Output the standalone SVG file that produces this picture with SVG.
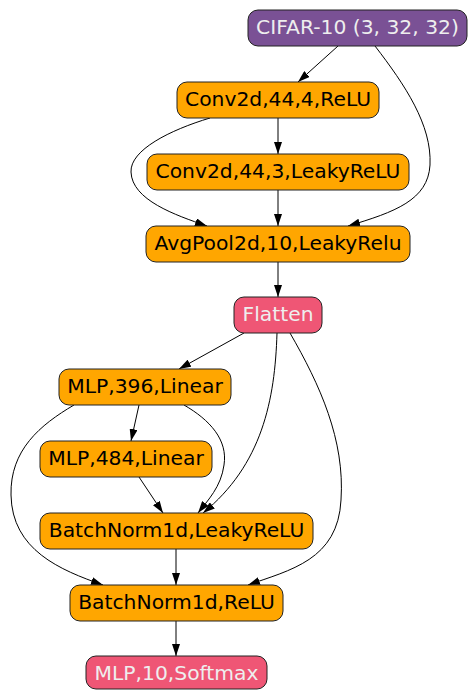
<svg xmlns="http://www.w3.org/2000/svg" width="468" height="690" viewBox="0 0 468 690">
<style>
  .n rect { stroke: #222; stroke-width: 1; }
  .o rect { fill: #ffa600; }
  .p rect { fill: #7a5195; }
  .k rect { fill: #ef5675; }
  .n text { font-family: "DejaVu Sans", sans-serif; font-size: 20.3px; text-anchor: middle; fill: #000; }
  .p text, .k text { fill: #eeeeee; }
  #edges path { fill: none; stroke: #000; stroke-width: 1; marker-end: url(#ah); }
</style>
<defs>
  <marker id="ah" markerUnits="userSpaceOnUse" markerWidth="12" markerHeight="8" viewBox="0 0 12 8" refX="12" refY="4" orient="auto">
    <path d="M0,0 L12,4 L0,8 z" fill="#000"/>
  </marker>
</defs>
<rect width="468" height="690" fill="#fff"/>
<g id="edges">
  <path d="M338,46 L298,82"/>
  <path d="M375,46 C405,85 432,125 430,165 C428,200 395,212 348,226"/>
  <path d="M278,118 L278,154"/>
  <path d="M210,118 C170,130 130,150 131,172 C132,200 175,215 207,226"/>
  <path d="M278,190 L278,226"/>
  <path d="M278,262 L278,297"/>
  <path d="M244,333 L179,369"/>
  <path d="M277,333 C275,400 262,465 203,513"/>
  <path d="M290,333 C320,385 345,440 341,500 C338,560 290,570 248,585"/>
  <path d="M139,405 L131,441"/>
  <path d="M184,405 C210,420 228,440 224,465 C221,487 208,500 198,513"/>
  <path d="M74,405 C40,425 10,450 11,495 C12,550 60,570 103,585"/>
  <path d="M139,477 L163,513"/>
  <path d="M176,549 L176,585"/>
  <path d="M176,621 L176,656"/>
</g>
<g id="cifar" class="n p"><rect x="248" y="10" width="219" height="36" rx="10"/><text x="357.5" y="34">CIFAR-10 (3, 32, 32)</text></g>
<g id="conv1" class="n o"><rect x="177" y="82" width="202" height="36" rx="10"/><text x="278" y="106">Conv2d,44,4,ReLU</text></g>
<g id="conv2" class="n o"><rect x="147" y="154" width="262" height="36" rx="10"/><text x="278" y="178">Conv2d,44,3,LeakyReLU</text></g>
<g id="pool" class="n o"><rect x="146" y="226" width="264" height="36" rx="10"/><text x="278" y="250">AvgPool2d,10,LeakyRelu</text></g>
<g id="flatten" class="n k"><rect x="234" y="297" width="88" height="36" rx="10"/><text x="278" y="321">Flatten</text></g>
<g id="mlp396" class="n o"><rect x="59" y="369" width="172" height="36" rx="10"/><text x="145" y="393">MLP,396,Linear</text></g>
<g id="mlp484" class="n o"><rect x="40" y="441" width="172" height="36" rx="10"/><text x="126" y="465">MLP,484,Linear</text></g>
<g id="bn1" class="n o"><rect x="40" y="513" width="273" height="36" rx="10"/><text x="176.5" y="537">BatchNorm1d,LeakyReLU</text></g>
<g id="bn2" class="n o"><rect x="70" y="585" width="213" height="36" rx="10"/><text x="176.5" y="609">BatchNorm1d,ReLU</text></g>
<g id="mlp10" class="n k"><rect x="86" y="656" width="181" height="33" rx="10"/><text x="176.5" y="680">MLP,10,Softmax</text></g>
</svg>
